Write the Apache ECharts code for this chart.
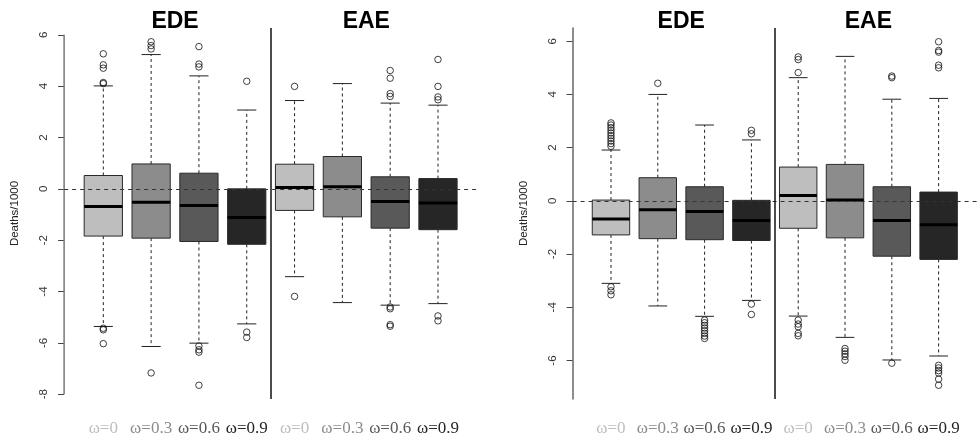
<!DOCTYPE html>
<html>
<head>
<meta charset="utf-8">
<script src="https://cdn.jsdelivr.net/npm/echarts@6/dist/echarts.min.js"></script>
<style>
  html, body { margin: 0; padding: 0; background: #fff; }
  #chart { width: 977px; height: 447px; }
</style>
</head>
<body>
<div id="chart"></div>
<script>
// Group titles and per-box labels (four omega settings per group)
const groupTitles = ['EDE', 'EAE'];
const omegaLabels = ['ω=0', 'ω=0.3', 'ω=0.6', 'ω=0.9', 'ω=0', 'ω=0.3', 'ω=0.6', 'ω=0.9'];
const boxFills = ['#bebebe', '#8c8c8c', '#595959', '#262626'];

// Left panel: box statistics (whisker low, Q1, median, Q3, whisker high) and outliers
const leftTicks = [-8, -6, -4, -2, 0, 2, 4, 6];
const leftLow  = [-5.36, -6.14, -6.01, -5.26, -3.42, -4.43, -4.53, -4.47];
const leftQ1   = [-1.84, -1.92, -2.05, -2.16, -0.84, -1.09, -1.53, -1.59];
const leftMed  = [-0.69, -0.52, -0.65, -1.12, 0.05, 0.08, -0.49, -0.55];
const leftQ3   = [0.52, 0.97, 0.61, 0.00, 0.96, 1.26, 0.47, 0.40];
const leftHigh = [4.01, 5.23, 4.40, 3.07, 3.44, 4.10, 3.34, 3.26];
const leftOut = [
  [5.26, 4.83, 4.70, 4.14, 4.10, -5.43, -5.49, -6.03],
  [5.73, 5.58, 5.45, -7.17],
  [5.54, 4.86, 4.75, -6.12, -6.27, -6.36, -7.65],
  [4.19, -5.58, -5.79],
  [3.99, -4.19],
  [],
  [4.61, 4.31, 3.71, 3.60, -4.60, -4.67, -5.29, -5.35],
  [5.04, 3.99, 3.58, 3.47, -4.95, -5.14]
];

// Right panel
const rightTicks = [-6, -4, -2, 0, 2, 4, 6];
const rightLow  = [-3.10, -3.95, -4.34, -3.74, -4.33, -5.13, -5.98, -5.83];
const rightQ1   = [-1.28, -1.42, -1.46, -1.49, -1.03, -1.39, -2.08, -2.20];
const rightMed  = [-0.68, -0.33, -0.40, -0.74, 0.20, 0.03, -0.74, -0.90];
const rightQ3   = [0.03, 0.87, 0.53, 0.02, 1.27, 1.37, 0.53, 0.33];
const rightHigh = [1.91, 4.00, 2.85, 2.29, 4.63, 5.43, 3.82, 3.85];
const rightOut = [
  [2.05, 2.15, 2.25, 2.35, 2.45, 2.55, 2.65, 2.75, 2.85, 2.93, -3.23, -3.38, -3.53],
  [4.42],
  [-4.48, -4.58, -4.68, -4.78, -4.88, -4.98, -5.08, -5.17],
  [2.52, 2.65, -3.88, -4.27],
  [5.41, 5.31, 4.82, -4.48, -4.63, -4.73, -4.98, -5.07],
  [-5.55, -5.65, -5.75, -5.85, -5.99],
  [4.69, 4.63, -6.10],
  [5.98, 5.65, 5.59, 5.10, 5.00, -6.18, -6.28, -6.38, -6.47, -6.70, -6.93]
];

// x range follows the usual boxplot convention: 0.5..n+0.5 padded by 4%
const nBox = omegaLabels.length;
const xPad = 0.04 * nBox;
const xMin = 0.5 - xPad, xMax = nBox + 0.5 + xPad;
const positions = omegaLabels.map((_, i) => i + 1);
const groupSize = 4;
const groupCenters = groupTitles.map((_, g) => g * groupSize + (groupSize + 1) / 2);
const dividerX = groupSize + 0.5;

function padRange(vals) {
  const lo = Math.min(...vals), hi = Math.max(...vals);
  const p = 0.04 * (hi - lo);
  return [lo - p, hi + p];
}
const leftY = padRange(leftOut.flat().concat(leftLow, leftHigh));
const rightY = padRange(rightOut.flat().concat(rightLow, rightHigh));

const labelRich = {};
boxFills.forEach((c, i) => {
  labelRich['c' + i] = { color: c, fontFamily: 'Liberation Serif', fontSize: 17 };
});

function renderBox(params, api) {
  const x = api.value(0);
  const lo = api.value(1), q1 = api.value(2), md = api.value(3), q3 = api.value(4), hi = api.value(5);
  const fill = boxFills[params.dataIndex % groupSize];
  const a = api.coord([x - 0.4, q3]);
  const b = api.coord([x + 0.4, q1]);
  const c = v => api.coord([x, v]);
  const seg = (p, q, style) => ({ type: 'line', shape: { x1: p[0], y1: p[1], x2: q[0], y2: q[1] }, style });
  const dash = { stroke: '#222', lineWidth: 1, lineDash: [3, 3] };
  const cap = { stroke: '#222', lineWidth: 1 };
  return {
    type: 'group',
    children: [
      seg(c(q3), c(hi), dash),
      seg(c(q1), c(lo), dash),
      seg(api.coord([x - 0.2, hi]), api.coord([x + 0.2, hi]), cap),
      seg(api.coord([x - 0.2, lo]), api.coord([x + 0.2, lo]), cap),
      { type: 'rect', shape: { x: a[0], y: a[1], width: b[0] - a[0], height: b[1] - a[1] },
        style: { fill, stroke: '#2a2a2a', lineWidth: 1 } },
      seg(api.coord([x - 0.4, md]), api.coord([x + 0.4, md]), { stroke: '#000', lineWidth: 3 })
    ]
  };
}

function renderTitle(params, api) {
  const p = api.coord([api.value(0), api.value(1)]);
  return {
    type: 'text',
    style: {
      x: p[0], y: p[1] - 6, text: groupTitles[params.dataIndex],
      fontFamily: 'Liberation Sans', fontWeight: 'bold', fontSize: 23,
      fill: '#000', align: 'center', verticalAlign: 'middle'
    }
  };
}

function panelSeries(gi, low, q1, med, q3, high, out, yRange) {
  const boxes = positions.map((p, i) => [p, low[i], q1[i], med[i], q3[i], high[i]]);
  const pts = [];
  out.forEach((vals, i) => vals.forEach(v => pts.push([positions[i], v])));
  return [
    { type: 'custom', xAxisIndex: gi, yAxisIndex: gi, data: boxes, renderItem: renderBox, z: 2, silent: true },
    { type: 'scatter', xAxisIndex: gi, yAxisIndex: gi, data: pts, symbol: 'circle', symbolSize: 6.5,
      itemStyle: { color: 'rgba(0,0,0,0)', borderColor: '#111', borderWidth: 1 }, z: 3, silent: true },
    { type: 'scatter', xAxisIndex: gi, yAxisIndex: gi, data: [], z: 5, silent: true,
      markLine: {
        silent: true, symbol: 'none', label: { show: false }, animation: false,
        data: [
          { yAxis: 0, lineStyle: { color: '#333', width: 1, type: [4, 4] } },
          { xAxis: dividerX, lineStyle: { color: '#111', width: 1.5, type: 'solid' } }
        ]
      } },
    { type: 'custom', xAxisIndex: gi, yAxisIndex: gi, renderItem: renderTitle, z: 6, silent: true,
      data: groupCenters.map(g => [g, yRange[1]]) }
  ];
}

function xAxisCfg(gi) {
  return {
    type: 'value', gridIndex: gi, min: xMin, max: xMax,
    axisLine: { show: false }, axisTick: { show: false }, splitLine: { show: false },
    axisLabel: {
      customValues: positions, margin: 21,
      formatter: v => {
        const i = Math.round(v) - 1;
        return '{c' + (i % groupSize) + '|' + omegaLabels[i] + '}';
      },
      rich: labelRich
    }
  };
}

function yAxisCfg(gi, range, ticks, showLine) {
  return {
    type: 'value', gridIndex: gi, min: range[0], max: range[1],
    name: 'Deaths/1000', nameLocation: 'middle', nameGap: 43, nameRotate: 90,
    nameTextStyle: { fontFamily: 'Liberation Sans', fontSize: 11.5, color: '#222' },
    axisLine: { show: showLine, lineStyle: { color: '#666', width: 1.5 } },
    axisTick: { show: true, customValues: ticks, length: 6, lineStyle: { color: '#444', width: 1 } },
    axisLabel: { customValues: ticks, rotate: 90, margin: 14, fontFamily: 'Liberation Sans',
      fontSize: 11.5, color: '#333' },
    splitLine: { show: false }
  };
}

const chart = echarts.init(document.getElementById('chart'), null, { renderer: 'canvas' });
const series = []
  .concat(panelSeries(0, leftLow, leftQ1, leftMed, leftQ3, leftHigh, leftOut, leftY))
  .concat(panelSeries(1, rightLow, rightQ1, rightMed, rightQ3, rightHigh, rightOut, rightY));

// Left panel's axis line runs only between its outermost ticks
series.push({
  type: 'line', xAxisIndex: 0, yAxisIndex: 0, symbol: 'none', clip: false, silent: true, z: 4,
  data: [[xMin, leftTicks[0]], [xMin, leftTicks[leftTicks.length - 1]]],
  lineStyle: { color: '#777', width: 1.5 }
});

chart.setOption({
  animation: false,
  backgroundColor: '#fff',
  grid: [
    { left: 64.1, top: 28, width: 413.1, height: 371 },
    { left: 572.6, top: 28, width: 413.3, height: 371 }
  ],
  xAxis: [xAxisCfg(0), xAxisCfg(1)],
  yAxis: [yAxisCfg(0, leftY, leftTicks, false), yAxisCfg(1, rightY, rightTicks, true)],
  series
});
</script>
</body>
</html>
